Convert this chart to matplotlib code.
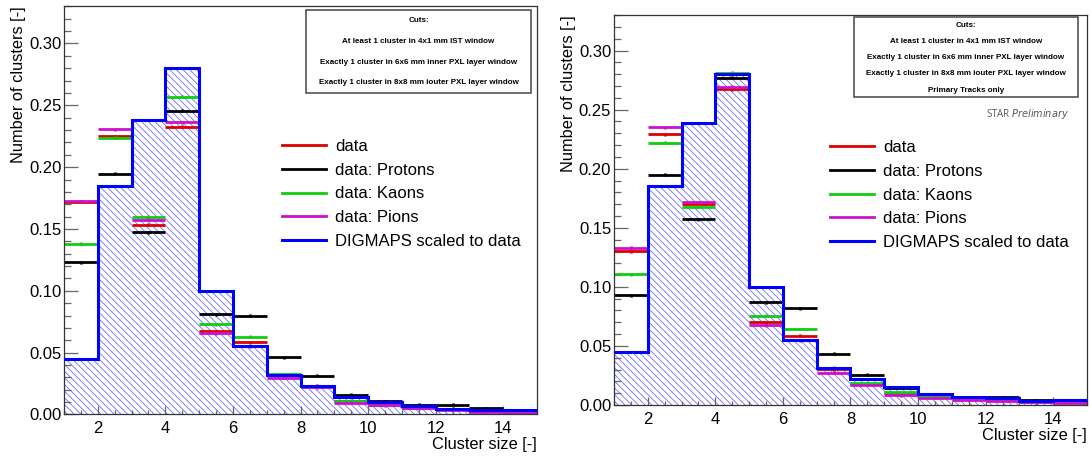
import numpy as np
import matplotlib
matplotlib.use('Agg')
import matplotlib.pyplot as plt
from matplotlib.patches import Rectangle
from matplotlib.ticker import MultipleLocator, FormatStrFormatter

plt.rcParams['font.family'] = ['Liberation Sans', 'DejaVu Sans']
plt.rcParams['hatch.linewidth'] = 0.6

# cluster size bins 1..15
edges = np.arange(1, 16)

# ---------------- left: all tracks ----------------
L_data    = [0.172, 0.2252, 0.1536, 0.2327, 0.0673, 0.0584, 0.0317, 0.0231, 0.0108, 0.0078, 0.0059, 0.0046, 0.0032, 0.0024]
L_protons = [0.123, 0.1948, 0.1474, 0.2456, 0.0812, 0.0799, 0.0463, 0.0312, 0.0159, 0.0108, 0.0078, 0.0078, 0.0051, 0.0032]
L_kaons   = [0.138, 0.2236, 0.1600, 0.2569, 0.0729, 0.0630, 0.0326, 0.0226, 0.0113, 0.0078, 0.0056, 0.0046, 0.0030, 0.0022]
L_pions   = [0.1725, 0.2306, 0.1574, 0.2362, 0.0656, 0.0552, 0.0299, 0.0220, 0.0097, 0.0073, 0.0051, 0.0040, 0.0024, 0.0016]
L_digmaps = [0.045, 0.185, 0.238, 0.280, 0.100, 0.055, 0.032, 0.023, 0.0145, 0.0099, 0.0067, 0.0046, 0.0035, 0.0040]

# ---------------- right: primary tracks only ----------------
R_data    = [0.130, 0.2292, 0.1700, 0.2674, 0.0699, 0.0587, 0.0303, 0.0180, 0.0098, 0.0070, 0.0050, 0.0048, 0.0028, 0.0025]
R_protons = [0.0927, 0.1949, 0.1573, 0.2770, 0.0868, 0.0817, 0.0433, 0.0258, 0.0145, 0.0087, 0.0067, 0.0067, 0.0042, 0.0031]
R_kaons   = [0.1107, 0.2219, 0.1680, 0.2812, 0.0756, 0.0643, 0.0317, 0.0185, 0.0107, 0.0072, 0.0052, 0.0046, 0.0027, 0.0022]
R_pions   = [0.1331, 0.2351, 0.1719, 0.2694, 0.0674, 0.0548, 0.0275, 0.0169, 0.0081, 0.0062, 0.0042, 0.0036, 0.0022, 0.0017]
R_digmaps = [0.045, 0.185, 0.2385, 0.280, 0.100, 0.0553, 0.0317, 0.0216, 0.0152, 0.0090, 0.0070, 0.0060, 0.0034, 0.0045]

stat_err = 0.0012

series_names = ['data', 'data: Protons', 'data: Kaons', 'data: Pions']
series_colors = ['#dd0000', '#000000', '#11cc11', '#cc11cc']

cuts_left = ['Cuts:',
             'At least 1 cluster in 4x1 mm IST window',
             'Exactly 1 cluster in 6x6 mm inner PXL layer window',
             'Exactly 1 cluster in 8x8 mm iouter PXL layer window']
cuts_right = cuts_left + ['Primary Tracks only']


def draw_panel(ax, series, digmaps, cuts, cut_y, box, leg_anchor, xlab_y, star=False):
    centers = edges[:-1] + 0.5
    # hatched DIGMAPS histogram
    ax.stairs(digmaps, edges, fill=True, facecolor='none', edgecolor='#6c6cff',
              hatch='\\\\\\\\\\', linewidth=0, zorder=1)
    ax.stairs(digmaps, edges, baseline=None, color='#0000ff', linewidth=2.2, zorder=3)

    handles = []
    for vals, name, col in zip(series, series_names, series_colors):
        ax.errorbar(centers, vals, xerr=0.5, yerr=stat_err, fmt='none', ecolor=col,
                    elinewidth=2.0, capsize=0, zorder=2)
        h, = ax.plot([], [], color=col, lw=2.0, label=name)
        handles.append(h)
    h, = ax.plot([], [], color='#0000ff', lw=2.2, label='DIGMAPS scaled to data')
    handles.append(h)

    ax.legend(handles=handles, loc='upper left', bbox_to_anchor=leg_anchor, frameon=False,
              fontsize=12, handlelength=2.65, handletextpad=0.55, labelspacing=0.52,
              borderpad=0, borderaxespad=0)

    ax.set_xlim(1, 15)
    ax.set_ylim(0, 0.33)
    ax.xaxis.set_major_locator(MultipleLocator(2))
    ax.xaxis.set_minor_locator(MultipleLocator(0.5))
    ax.yaxis.set_major_locator(MultipleLocator(0.05))
    ax.yaxis.set_minor_locator(MultipleLocator(0.01))
    ax.yaxis.set_major_formatter(FormatStrFormatter('%.2f'))
    ax.tick_params(direction='in', which='both', top=False, right=False,
                   color='#666666', labelsize=12)
    ax.tick_params(axis='y', which='major', length=10, width=0.9, pad=2)
    ax.tick_params(axis='y', which='minor', length=5, width=0.9)
    ax.tick_params(axis='x', which='major', length=6, width=0.9, pad=5)
    ax.tick_params(axis='x', which='minor', length=3, width=0.9)
    for sp in ax.spines.values():
        sp.set_color('#333333')
        sp.set_linewidth(0.9)

    ax.text(-0.097, 1.0, 'Number of clusters [-]', rotation=90, transform=ax.transAxes,
            ha='center', va='top', fontsize=11.8)
    ax.text(1.0, xlab_y, 'Cluster size [-]', transform=ax.transAxes,
            ha='right', va='top', fontsize=11.8)

    # cuts box
    x0, y0, x1, y1 = box
    ax.add_patch(Rectangle((x0, y0), x1 - x0, y1 - y0, transform=ax.transAxes,
                           fill=True, facecolor='white', edgecolor='#444444',
                           linewidth=1.1, zorder=5))
    for t, yy in zip(cuts, cut_y):
        ax.text((x0 + x1) / 2, yy, t, transform=ax.transAxes, ha='center', va='center',
                fontsize=5.8, fontweight='bold', zorder=6)

    if star:
        ax.text(0.962, 0.746, 'STAR $\\it{Preliminary}$', transform=ax.transAxes,
                ha='right', va='center', fontsize=7, color='#555555',
                family=['Open Sans', 'DejaVu Sans'])


fig = plt.figure(figsize=(10.91, 4.57), dpi=100)
ax1 = fig.add_axes([0.0587, 0.093, 0.4335, 0.893])
ax2 = fig.add_axes([0.5628, 0.1138, 0.4335, 0.853])

draw_panel(ax1, [L_data, L_protons, L_kaons, L_pions], L_digmaps, cuts_left,
           [0.965, 0.914, 0.863, 0.813], (0.512, 0.788, 0.987, 0.991), (0.46, 0.675), -0.055)
draw_panel(ax2, [R_data, R_protons, R_kaons, R_pions], R_digmaps, cuts_right,
           [0.973, 0.932, 0.892, 0.851, 0.808], (0.507, 0.790, 0.981, 0.995), (0.456, 0.679),
           -0.058, star=True)

fig.savefig('out.png', dpi=100)
